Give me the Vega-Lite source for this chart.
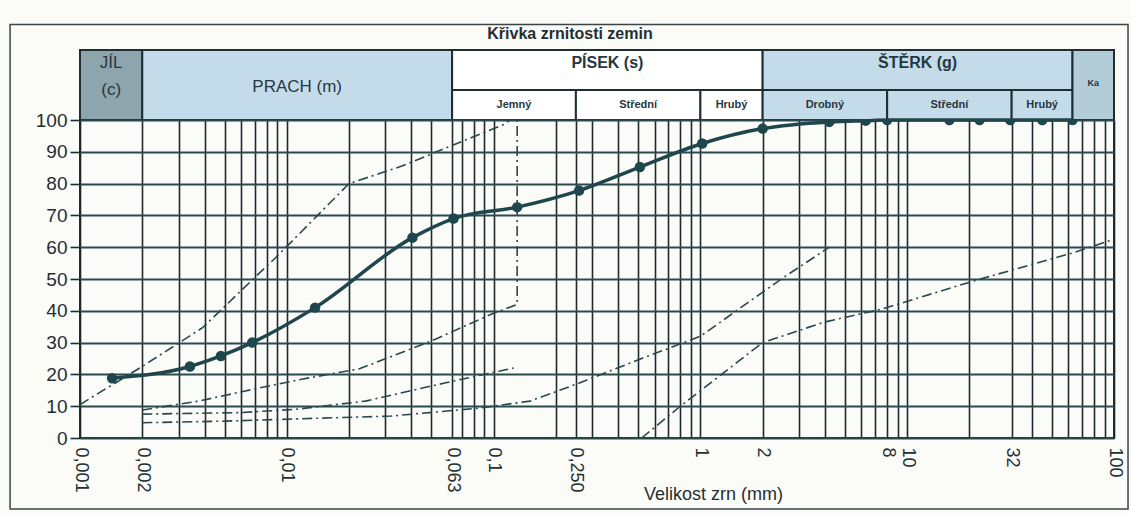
{
  "$schema": "https://vega.github.io/schema/vega-lite/v6.json",
  "background": "#fbfbf8",
  "padding": {"left": 8, "top": 22, "right": 5, "bottom": 5},
  "config": {"font": "Liberation Sans", "view": {"stroke": "#1e2e32", "strokeWidth": 2}, "axisY": {"labelOverlap": false, "tickCount": 11}},
  "spacing": 0,
  "bounds": "flush",
  "datasets": {
    "zones": [
      {"name": "JÍL\n(c)", "x1": 0.001, "x2": 0.002, "lo": 0, "hi": 2, "kind": "dark"},
      {"name": "PRACH (m)", "x1": 0.002, "x2": 0.063, "lo": 0, "hi": 2, "kind": "light"},
      {"name": "PÍSEK (s)", "x1": 0.063, "x2": 2, "lo": 1, "hi": 2, "kind": "white"},
      {"name": "Jemný", "x1": 0.063, "x2": 0.25, "lo": 0, "hi": 1, "kind": "white"},
      {"name": "Střední", "x1": 0.25, "x2": 1, "lo": 0, "hi": 1, "kind": "white"},
      {"name": "Hrubý", "x1": 1, "x2": 2, "lo": 0, "hi": 1, "kind": "white"},
      {"name": "ŠTĚRK (g)", "x1": 2, "x2": 63, "lo": 1, "hi": 2, "kind": "light"},
      {"name": "Drobný", "x1": 2, "x2": 8, "lo": 0, "hi": 1, "kind": "light"},
      {"name": "Střední", "x1": 8, "x2": 32, "lo": 0, "hi": 1, "kind": "light"},
      {"name": "Hrubý", "x1": 32, "x2": 63, "lo": 0, "hi": 1, "kind": "light"},
      {"name": "Ka", "x1": 63, "x2": 100, "lo": 0, "hi": 2, "kind": "kam"}
    ],
    "bounds": [
      {"series": "A", "d": 0.001, "p": 10.5},
      {"series": "A", "d": 0.002, "p": 22.5},
      {"series": "A", "d": 0.0039, "p": 34.6},
      {"series": "A", "d": 0.0073, "p": 51.6},
      {"series": "A", "d": 0.0088, "p": 56.6},
      {"series": "A", "d": 0.02, "p": 80},
      {"series": "A", "d": 0.036, "p": 85.5},
      {"series": "A", "d": 0.063, "p": 92},
      {"series": "A", "d": 0.113, "p": 98.7},
      {"series": "A", "d": 0.12, "p": 100},
      {"series": "B", "d": 0.002, "p": 8.8},
      {"series": "B", "d": 0.00375, "p": 11.6},
      {"series": "B", "d": 0.0063, "p": 14.8},
      {"series": "B", "d": 0.0118, "p": 18.5},
      {"series": "B", "d": 0.0223, "p": 21.7},
      {"series": "B", "d": 0.05, "p": 30.5},
      {"series": "B", "d": 0.098, "p": 39},
      {"series": "B", "d": 0.13, "p": 42},
      {"series": "B", "d": 0.13, "p": 100},
      {"series": "C", "d": 0.002, "p": 7.5},
      {"series": "C", "d": 0.006, "p": 8},
      {"series": "C", "d": 0.011, "p": 9},
      {"series": "C", "d": 0.024, "p": 11.6},
      {"series": "C", "d": 0.058, "p": 17.3},
      {"series": "C", "d": 0.106, "p": 21},
      {"series": "C", "d": 0.125, "p": 22},
      {"series": "D", "d": 0.002, "p": 4.8},
      {"series": "D", "d": 0.005, "p": 5.3},
      {"series": "D", "d": 0.011, "p": 6},
      {"series": "D", "d": 0.032, "p": 6.9},
      {"series": "D", "d": 0.085, "p": 9.4},
      {"series": "D", "d": 0.15, "p": 11.6},
      {"series": "D", "d": 0.26, "p": 17.3},
      {"series": "D", "d": 0.52, "p": 25},
      {"series": "D", "d": 0.8, "p": 29.6},
      {"series": "D", "d": 1, "p": 32},
      {"series": "D", "d": 2.5, "p": 50.3},
      {"series": "D", "d": 4.2, "p": 60},
      {"series": "E", "d": 0.52, "p": 0},
      {"series": "E", "d": 0.8, "p": 10},
      {"series": "E", "d": 2, "p": 30},
      {"series": "E", "d": 4, "p": 36.5},
      {"series": "E", "d": 7.5, "p": 40.5},
      {"series": "E", "d": 21, "p": 49.4},
      {"series": "E", "d": 63, "p": 58.2},
      {"series": "E", "d": 100, "p": 62.5}
    ],
    "curve": [
      {"d": 0.00143, "p": 18.8},
      {"d": 0.0034, "p": 22.5},
      {"d": 0.0048, "p": 25.8},
      {"d": 0.0068, "p": 30},
      {"d": 0.0137, "p": 41},
      {"d": 0.0405, "p": 63},
      {"d": 0.064, "p": 69},
      {"d": 0.13, "p": 72.6},
      {"d": 0.259, "p": 77.8},
      {"d": 0.51, "p": 85.2},
      {"d": 1.02, "p": 92.6},
      {"d": 2, "p": 97.3},
      {"d": 4.2, "p": 99.4},
      {"d": 6.3, "p": 99.8},
      {"d": 8, "p": 100},
      {"d": 16, "p": 100},
      {"d": 22.4, "p": 100},
      {"d": 31.5, "p": 100},
      {"d": 45, "p": 100},
      {"d": 63, "p": 100}
    ]
  },
  "vconcat": [
    {
      "width": 1034,
      "height": 70,
      "title": {"text": "Křivka zrnitosti zemin", "fontSize": 16, "fontWeight": "bold", "color": "#1f2f33", "offset": 7, "anchor": "middle", "dx": -27},
      "data": {"name": "zones"},
      "transform": [
        {"calculate": "sqrt(datum.x1 * datum.x2)", "as": "xm"},
        {"calculate": "(datum.lo + datum.hi) / 2", "as": "ym"}
      ],
      "encoding": {
        "x": {"field": "x1", "type": "quantitative", "scale": {"type": "log", "domain": [0.001, 100], "nice": false}, "axis": null},
        "y": {"field": "lo", "type": "quantitative", "scale": {"domain": [0, 1, 2], "range": [70, 40, 0], "nice": false, "zero": false}, "axis": null}
      },
      "layer": [
        {
          "mark": {"type": "rect", "stroke": "#1e2e32", "strokeWidth": 2},
          "encoding": {
            "x2": {"field": "x2"},
            "y2": {"field": "hi"},
            "fill": {"field": "kind", "type": "nominal", "scale": {"domain": ["dark", "light", "white", "kam"], "range": ["#8ea5ad", "#c4dcea", "#ffffff", "#b2ccd8"]}, "legend": null}
          }
        },
        {
          "transform": [{"filter": "datum.kind == 'dark'"}],
          "mark": {"type": "text", "fontSize": 17, "color": "#26383f", "lineBreak": "\n", "lineHeight": 27, "dy": -27},
          "encoding": {
            "x": {"field": "xm", "type": "quantitative"},
            "y": {"field": "ym", "type": "quantitative"},
            "text": {"field": "name"}
          }
        },
        {
          "transform": [{"filter": "datum.lo == 0 && datum.hi == 2 && datum.kind == 'light'"}],
          "mark": {"type": "text", "fontSize": 17, "color": "#26383f", "dy": -3},
          "encoding": {
            "x": {"field": "xm", "type": "quantitative"},
            "y": {"field": "ym", "type": "quantitative"},
            "text": {"field": "name"}
          }
        },
        {
          "transform": [{"filter": "datum.lo == 1"}],
          "mark": {"type": "text", "fontSize": 16, "fontWeight": "bold", "color": "#26383f", "dy": -7},
          "encoding": {
            "x": {"field": "xm", "type": "quantitative"},
            "y": {"field": "ym", "type": "quantitative"},
            "text": {"field": "name"}
          }
        },
        {
          "transform": [{"filter": "datum.hi == 1"}],
          "mark": {"type": "text", "fontSize": 11, "fontWeight": "bold", "color": "#26383f"},
          "encoding": {
            "x": {"field": "xm", "type": "quantitative"},
            "y": {"field": "ym", "type": "quantitative"},
            "text": {"field": "name"}
          }
        },
        {
          "transform": [{"filter": "datum.kind == 'kam'"}],
          "mark": {"type": "text", "fontSize": 9, "fontWeight": "bold", "color": "#26383f", "dy": -7},
          "encoding": {
            "x": {"field": "xm", "type": "quantitative"},
            "y": {"field": "ym", "type": "quantitative"},
            "text": {"field": "name"}
          }
        }
      ]
    },
    {
      "width": 1034,
      "height": 318,
      "layer": [
        {
          "data": {"name": "bounds"},
          "mark": {"type": "line", "strokeDash": [10, 4, 2, 4], "strokeWidth": 1.6, "color": "#2a474d"},
          "encoding": {
            "x": {
              "field": "d", "type": "quantitative",
              "scale": {"type": "log", "domain": [0.001, 100], "nice": false},
              "axis": {
                "values": [0.001, 0.002, 0.003, 0.004, 0.005, 0.006, 0.007, 0.008, 0.009, 0.01, 0.02, 0.03, 0.04, 0.05, 0.063, 0.07, 0.08, 0.09, 0.1, 0.2, 0.25, 0.3, 0.4, 0.5, 0.6, 0.7, 0.8, 0.9, 1, 2, 3, 4, 5, 6, 7, 8, 9, 10, 20, 32, 40, 50, 60, 70, 80, 90, 100],
                "labelExpr": "datum.value == 0.25 ? '0,250' : (indexof([0.001, 0.002, 0.01, 0.063, 0.1, 1, 2, 8, 10, 32, 100], datum.value) >= 0 ? replace(toString(datum.value), '.', ',') : '')",
                "labelAngle": 90, "labelFontSize": 18, "labelColor": "#1f2f33", "labelPadding": 9,
                "labelFlush": false, "labelOverlap": false, "ticks": false, "domain": false,
                "grid": true, "gridColor": "#1c2a2e", "gridWidth": 1.6, "gridOpacity": 1,
                "title": "Velikost zrn (mm)", "titleFontSize": 18, "titleFontWeight": "normal", "titleColor": "#1f2f33",
                "titleX": 633, "titleY": 56, "titleBaseline": "middle"
              }
            },
            "y": {
              "field": "p", "type": "quantitative",
              "scale": {"domain": [0, 100], "nice": false},
              "axis": {
                "values": [0, 10, 20, 30, 40, 50, 60, 70, 80, 90, 100],
                "tickCount": 11,
                "labelFontSize": 19, "labelColor": "#1f2f33", "labelPadding": 3, "labelOverlap": false,
                "tickSize": 10, "tickColor": "#1e2e32", "tickWidth": 1.6,
                "domain": false, "grid": true, "gridColor": "#2a4a50", "gridWidth": 2, "gridOpacity": 1,
                "title": null
              }
            },
            "detail": {"field": "series"},
            "order": [{"field": "d"}, {"field": "p"}]
          }
        },
        {
          "data": {"name": "curve"},
          "mark": {"type": "line", "strokeWidth": 3.5, "color": "#1f464c", "interpolate": "monotone"},
          "encoding": {
            "x": {"field": "d", "type": "quantitative"},
            "y": {"field": "p", "type": "quantitative"}
          }
        },
        {
          "data": {"name": "curve"},
          "mark": {"type": "circle", "size": 110, "color": "#1f464c", "opacity": 1, "clip": true},
          "encoding": {
            "x": {"field": "d", "type": "quantitative"},
            "y": {"field": "p", "type": "quantitative"}
          }
        },
        {
          "data": {"values": [{}]},
          "mark": {"type": "rect", "fill": "#ffffff", "fillOpacity": 0, "stroke": "#3a4548", "strokeWidth": 1.5, "clip": false},
          "encoding": {
            "x": {"datum": 0.000459, "type": "quantitative"},
            "x2": {"datum": 116.9},
            "y": {"datum": -22.3, "type": "quantitative"},
            "y2": {"datum": 130.0}
          }
        }
      ]
    }
  ]
}
